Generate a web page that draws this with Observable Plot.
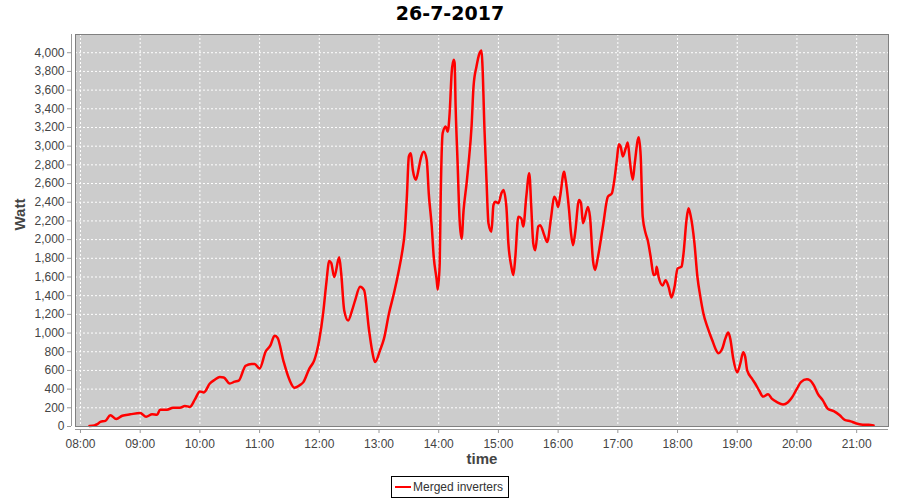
<!DOCTYPE html>
<html>
<head>
<meta charset="utf-8">
<script src="https://cdn.jsdelivr.net/npm/d3@7"></script>
<script src="https://cdn.jsdelivr.net/npm/@observablehq/plot@0.6"></script>
<style>
  html, body { margin: 0; padding: 0; background: #fff; }
  #wrap { position: relative; width: 900px; height: 500px; overflow: hidden; }
  #title { position: absolute; left: 0; top: 2px; width: 900px; text-align: center;
           font: bold 19px "DejaVu Sans", sans-serif; line-height: 22px; color: #000; }
  #legend { position: absolute; left: 391px; top: 476px; width: 118px; height: 22px; box-sizing: border-box;
            border: 1px solid #000; font: 12px "Liberation Sans", Arial, sans-serif; color: #333; white-space: nowrap; }
  #legend .sw { position: absolute; left: 3px; top: 9px; width: 16px; height: 2px; background: red; }
  #legend .lb { position: absolute; left: 21px; top: 3px; line-height: 14px; }
</style>
</head>
<body>
<div id="wrap">
  <div id="chart"></div>
  <div id="title">26-7-2017</div>
  <div id="legend"><span class="sw"></span><span class="lb">Merged inverters</span></div>
</div>
<script>
const times = ["08:09","08:14","08:17","08:20","08:25","08:30","08:36","08:42","08:50","09:00",
"09:06","09:12","09:17","09:20","09:27","09:33","09:40","09:45","09:50","09:55",
"10:00","10:04","10:10","10:15","10:20","10:24","10:30","10:35","10:39","10:46",
"10:52","10:55","11:00","11:06","11:11","11:15","11:18","11:24","11:30","11:35",
"11:40","11:44","11:50","11:55","12:00","12:04","12:07","12:10","12:12","12:15",
"12:20","12:22","12:25","12:29","12:33","12:36","12:41","12:45","12:50","12:53",
"12:56","13:01","13:05","13:10","13:15","13:20","13:23","13:26","13:28","13:30",
"13:32","13:34","13:37","13:40","13:42","13:45","13:48","13:50","13:53","13:55",
"13:58","13:59","14:01","14:02","14:04","14:07","14:09","14:11","14:13","14:15",
"14:16","14:17","14:19","14:21","14:23","14:25","14:28","14:30","14:33","14:35",
"14:38","14:41","14:43","14:44","14:46","14:48","14:50","14:53","14:55","14:57",
"15:00","15:03","15:05","15:08","15:10","15:13","15:15","15:17","15:20","15:23",
"15:25","15:28","15:31","15:33","15:35","15:37","15:40","15:42","15:46","15:49",
"15:53","15:56","15:58","16:00","16:02","16:06","16:07","16:11","16:13","16:15",
"16:17","16:21","16:23","16:25","16:30","16:32","16:35","16:37","16:40","16:45",
"16:50","16:54","16:56","16:59","17:01","17:03","17:05","17:08","17:10","17:12",
"17:15","17:17","17:20","17:21","17:23","17:25","17:28","17:30","17:33","17:36",
"17:38","17:39","17:41","17:45","17:48","17:51","17:54","17:57","18:00","18:04",
"18:06","18:09","18:11","18:13","18:17","18:20","18:23","18:26","18:30","18:35",
"18:38","18:41","18:45","18:48","18:51","18:53","18:56","19:00","19:03","19:06",
"19:08","19:10","19:15","19:18","19:22","19:26","19:31","19:35","19:40","19:46",
"19:51","19:55","20:00","20:04","20:10","20:13","20:17","20:21","20:26","20:31",
"20:37","20:43","20:48","20:54","20:59","21:06","21:12","21:17"];
const watts = [5,12,25,50,60,120,80,115,130,145,
105,130,125,180,180,200,200,220,210,290,
375,365,460,500,530,525,460,480,490,650,
670,670,620,800,870,970,950,700,500,415,
440,475,620,710,930,1225,1530,1770,1750,1600,
1810,1640,1245,1135,1245,1350,1495,1460,1030,815,
690,815,940,1210,1425,1675,1850,2100,2460,2890,
2925,2745,2640,2765,2870,2940,2850,2495,2140,1815,
1565,1465,1745,2460,3140,3210,3155,3355,3785,3925,
3890,3425,2815,2210,2010,2315,2600,2815,3210,3640,
3855,3995,4025,3855,3175,2640,2175,2085,2370,2405,
2390,2495,2530,2350,1960,1710,1620,1815,2245,2225,
2140,2460,2710,2350,1960,1885,2140,2155,2050,1975,
2245,2460,2425,2350,2460,2725,2675,2315,2065,1940,
2065,2425,2390,2175,2350,2245,1780,1675,1815,2140,
2460,2495,2600,2850,3020,2990,2890,2980,3040,2850,
2640,2815,3065,3095,2890,2245,2065,1995,1815,1620,
1630,1710,1600,1510,1565,1495,1380,1495,1690,1710,
1850,2210,2335,2265,1960,1600,1385,1210,1065,920,
835,785,835,940,1005,940,725,580,670,795,
745,600,510,460,385,320,345,295,260,235,
260,310,405,475,505,495,440,350,280,190,
165,120,70,55,35,20,18,10];
const hourTicks = ["08:00","09:00","10:00","11:00","12:00","13:00","14:00","15:00","16:00","17:00","18:00","19:00","20:00","21:00"];
const wattTicks = [0,200,400,600,800,1000,1200,1400,1600,1800,2000,2200,2400,2600,2800,3000,3200,3400,3600,3800,4000];

const day = "2017-07-26";
const toDate = t => new Date(`${day}T${t}:00Z`);
const data = times.map((t, i) => ({time: toDate(t), watt: watts[i]}));
const xTicks = hourTicks.map(toDate);
const xDomain = [toDate("07:55"), toDate("21:32")];

const gridStyle = {stroke: "white", strokeOpacity: 1, strokeWidth: 1, strokeDasharray: "2,2"};

const chart = Plot.plot({
  width: 900,
  height: 500,
  marginTop: 34,
  marginLeft: 75,
  marginRight: 12,
  marginBottom: 74,
  style: {fontFamily: "'Liberation Sans', Arial, sans-serif", fontSize: "12px", color: "#444", background: "white", overflow: "visible"},
  x: {type: "utc", domain: xDomain},
  y: {domain: [0, 4195]},
  marks: [
    Plot.frame({fill: "#cccccc", stroke: null}),
    Plot.gridX(xTicks, gridStyle),
    Plot.gridY(wattTicks, gridStyle),
    Plot.line(data, {x: "time", y: "watt", stroke: "red", strokeWidth: 2.5, curve: "monotone-x"}),
    Plot.frame({stroke: "#808080", strokeWidth: 1}),
    Plot.axisX(xTicks, {tickFormat: d3.utcFormat("%H:%M"), tickSize: 4, tickPadding: 6, dy: 3, stroke: "#999", fill: "#444", label: null}),
    Plot.axisY(wattTicks, {tickFormat: d3.format(","), tickSize: 4, tickPadding: 3, dx: -4, stroke: "#999", fill: "#444", label: null}),
    Plot.ruleY([0], {dy: 3, stroke: "#999"}),
    Plot.ruleX([xDomain[0]], {dx: -4, stroke: "#999"}),
    Plot.text(["Watt"], {frameAnchor: "left", dx: -55, rotate: -90, fontSize: 15, fontWeight: "bold", fill: "#444"}),
    Plot.text(["time"], {frameAnchor: "bottom", dy: 37, fontSize: 15, fontWeight: "bold", fill: "#444"})
  ]
});
document.getElementById("chart").appendChild(chart);
</script>
</body>
</html>
